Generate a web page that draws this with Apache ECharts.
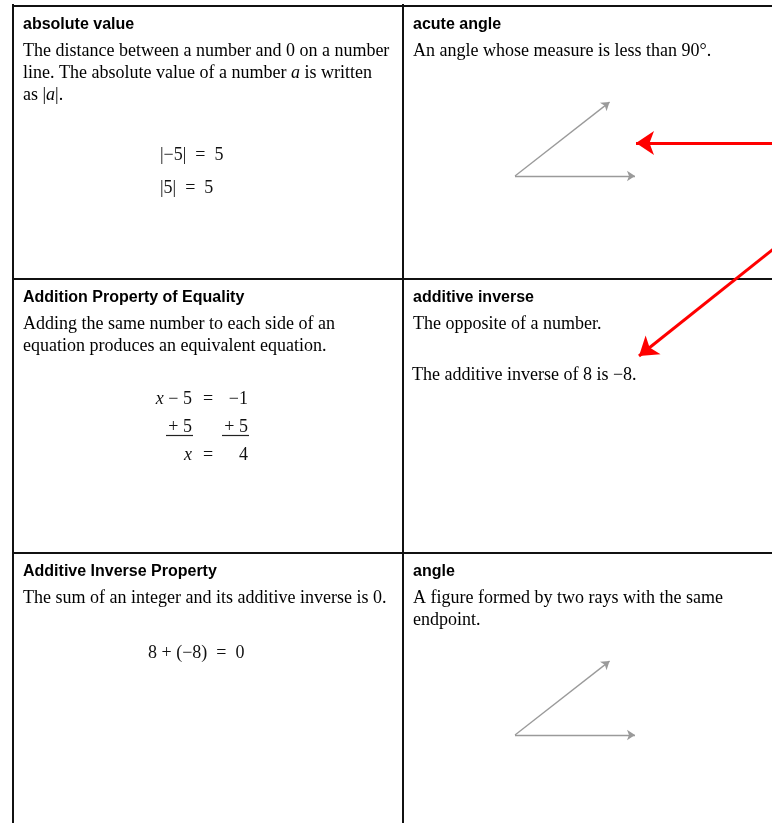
<!DOCTYPE html>
<html>
<head>
<meta charset="utf-8">
<script src="https://cdn.jsdelivr.net/npm/echarts@6/dist/echarts.min.js"></script>
<style>
	html, body { margin: 0; padding: 0; background: #fff; }
	#main { width: 772px; height: 823px; }
</style>
</head>
<body>
<div id="main"></div>
<script>
	// glossary terms, read row by row (left cell, right cell)
	var terms = ['absolute value', 'acute angle', 'Addition Property of Equality', 'additive inverse', 'Additive Inverse Property', 'angle'];
	var definitions = [
		['The distance between a number and 0 on a number', 'line. The absolute value of a number {i|a} is written', 'as |{i|a}|.'],
		['An angle whose measure is less than 90°.'],
		['Adding the same number to each side of an', 'equation produces an equivalent equation.'],
		['The opposite of a number.'],
		['The sum of an integer and its additive inverse is 0.'],
		['A figure formed by two rays with the same', 'endpoint.']
	];
	var absExamples = ['|−5|  =  5', '|5|  =  5'];
	var eqLeft = ['{i|x} − 5', '+ 5', '{i|x}'];
	var eqMid = ['=', '', '='];
	var eqRight = ['−1', '+ 5', '4'];
	var inverseExample = '8 + (−8)  =  0';
	var inverseNote = 'The additive inverse of 8 is −8.';
	var angleDeg = [38, 38]; // acute angle, angle
	var rayLength = 120;

	var W = 772, H = 823;
	var colX = [13, 403];
	var rowY = [6, 279, 553];
	var serif = '"Liberation Serif", "DejaVu Serif", serif';
	var sans = '"Liberation Sans", Arial, sans-serif';

	var headPts = [], defPts = [], exPts = [];
	for (var i = 0; i < terms.length; i++) {
		var cx = colX[i % 2], cy = rowY[Math.floor(i / 2)];
		headPts.push([cx + 10, cy + 19, terms[i]]);
		for (var k = 0; k < definitions[i].length; k++) {
			defPts.push([cx + 10, cy + 45 + k * 22, definitions[i][k]]);
		}
	}
	// examples
	defPts.push([412, 375, inverseNote]);
	for (var i = 0; i < absExamples.length; i++) {
		exPts.push({ value: [160, 155 + i * 33, absExamples[i]] });
	}
	for (var i = 0; i < eqLeft.length; i++) {
		var y = 399 + i * 28;
		exPts.push({ value: [192, y, eqLeft[i]], label: { align: 'right' } });
		exPts.push({ value: [208, y, eqMid[i]], label: { align: 'center' } });
		exPts.push({ value: [248, y, eqRight[i]], label: { align: 'right' } });
	}
	exPts.push({ value: [148, 653, inverseExample] });

	// table borders
	var borders = [
		[[colX[0], 4], [colX[0], H + 5]],
		[[colX[1], 4], [colX[1], H + 5]],
		[[colX[0], rowY[0]], [W + 5, rowY[0]]],
		[[colX[0], rowY[1]], [W + 5, rowY[1]]],
		[[colX[0], rowY[2]], [W + 5, rowY[2]]]
	];
	// underlines for "+ 5"
	var underlines = [
		[[166, 435], [193, 435]],
		[[222, 435], [249, 435]]
	];
	// rays of the angle drawings
	var vertices = [[515, 176], [515, 735]];
	var rays = [];
	for (var i = 0; i < vertices.length; i++) {
		var v = vertices[i], a = angleDeg[i] * Math.PI / 180;
		rays.push({ coords: [v, [v[0] + rayLength, v[1]]] });
		rays.push({ coords: [v, [v[0] + rayLength * Math.cos(a), v[1] - rayLength * Math.sin(a)]] });
	}
	var redArrows = [
		[[776, 143], [636, 143]],
		[[776, 247], [639, 356]]
	];

	function toLines(arr) {
		return arr.map(function (c) { return { coords: c }; });
	}
	function textSeries(data, font, size, weight, color) {
		return {
			type: 'scatter',
			silent: true,
			symbolSize: 1,
			itemStyle: { color: 'rgba(0,0,0,0)', opacity: 1 },
			data: data,
			label: {
				show: true,
				position: 'inside',
				align: 'left',
				verticalAlign: 'middle',
				fontFamily: font,
				fontSize: size,
				fontWeight: weight,
				color: color,
				formatter: function (p) { return p.value[2]; },
				rich: {
					i: { fontFamily: font, fontSize: size, fontStyle: 'italic', color: color }
				}
			}
		};
	}

	var chart = echarts.init(document.getElementById('main'));
	chart.setOption({
		animation: false,
		backgroundColor: '#fff',
		grid: { left: 0, right: 0, top: 0, bottom: 0 },
		xAxis: { type: 'value', min: 0, max: W, show: false },
		yAxis: { type: 'value', min: 0, max: H, inverse: true, show: false },
		series: [{
			type: 'lines',
			coordinateSystem: 'cartesian2d',
			silent: true,
			data: toLines(borders),
			symbol: 'none',
			lineStyle: { color: '#111', width: 2, opacity: 1, curveness: 0 }
		}, {
			type: 'lines',
			coordinateSystem: 'cartesian2d',
			silent: true,
			data: toLines(underlines),
			symbol: 'none',
			lineStyle: { color: '#222', width: 1.2, opacity: 1 }
		}, {
			type: 'lines',
			coordinateSystem: 'cartesian2d',
			silent: true,
			data: rays,
			symbol: ['none', 'arrow'],
			symbolSize: [0, 8],
			lineStyle: { color: '#9a9a9a', width: 1.3, opacity: 1 }
		}, {
			type: 'lines',
			coordinateSystem: 'cartesian2d',
			silent: true,
			data: toLines(redArrows),
			symbol: ['none', 'arrow'],
			symbolSize: [0, 18],
			lineStyle: { color: '#ff0000', width: 3, opacity: 1 }
		},
			textSeries(headPts, sans, 16, 'bold', '#000'),
			textSeries(defPts, serif, 18, 'normal', '#000'),
			textSeries(exPts, serif, 18, 'normal', '#111')
		]
	});
</script>
</body>
</html>
